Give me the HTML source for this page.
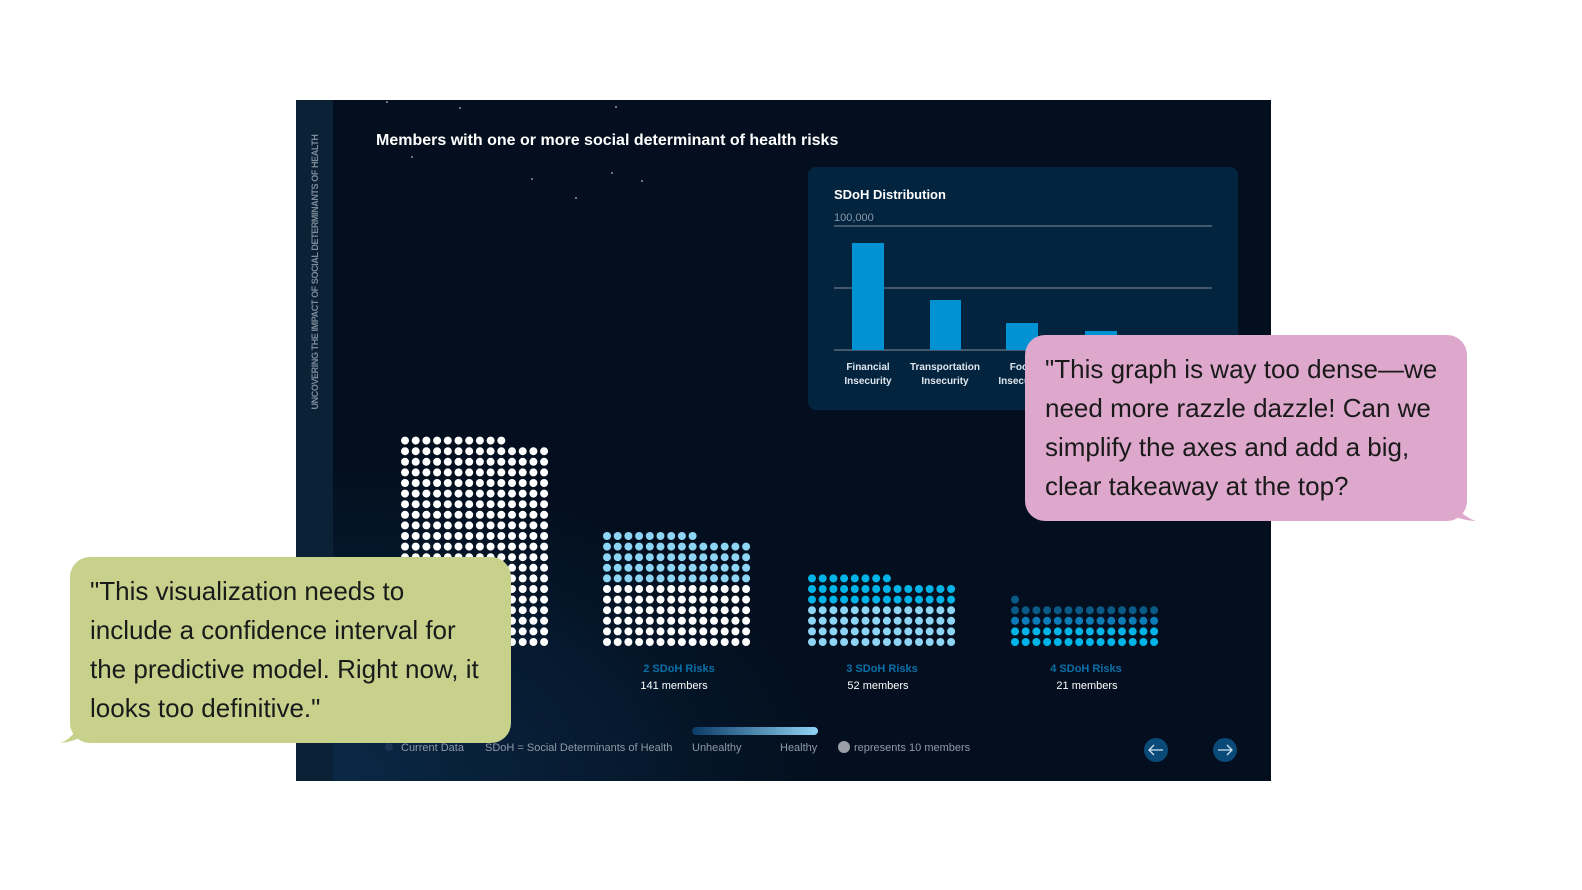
<!DOCTYPE html>
<html><head><meta charset="utf-8"><style>
*{margin:0;padding:0;box-sizing:border-box}
body{width:1582px;height:890px;background:#fff;position:relative;overflow:hidden;font-family:"Liberation Sans",Arial,sans-serif}
.panel{position:absolute;left:296px;top:100px;width:975px;height:681px;background:radial-gradient(ellipse 700px 420px at 0% 100%,#0b2a48 0%,#061a30 45%,#030f1e 75%),#030f1e;overflow:hidden}
.side{position:absolute;left:0;top:0;width:37px;height:681px;background:#0b2136}
.side span{position:absolute;left:19px;top:172px;transform:translate(-50%,-50%) rotate(-90deg);white-space:nowrap;font-size:9px;font-weight:bold;color:#7d8b99;letter-spacing:-0.4px}
.abs{position:absolute;white-space:nowrap}
.bubble{position:absolute;font-size:26px;color:#1a1a1a;line-height:39px;padding:19px 20px}
</style></head><body>
<div class="panel">
  <div class="side"><span>UNCOVERING THE IMPACT OF SOCIAL DETERMINANTS OF HEALTH</span></div>
  <div class="abs" style="left:80px;top:32px;font-size:16px;font-weight:bold;color:#fff">Members with one or more social determinant of health risks</div>
</div>
<svg style="position:absolute;left:0;top:0" width="1582" height="890" id="s">
  <g fill="#8a9aac"><circle cx="387" cy="102" r="1"/><circle cx="460" cy="108" r="1"/><circle cx="616" cy="107" r="1"/><circle cx="412" cy="157" r="1"/><circle cx="532" cy="179" r="1"/><circle cx="612" cy="173" r="1"/><circle cx="642" cy="181" r="1"/><circle cx="576" cy="198" r="1"/></g>
  <rect x="808" y="167" width="430" height="243" rx="8" fill="#03243f"/>
  <text x="834" y="199" font-size="13" font-weight="bold" fill="#fff">SDoH Distribution</text>
  <text x="834" y="221" font-size="11" fill="#8a98a8">100,000</text>
  <g stroke="#6c7a88" stroke-width="1.2"><line x1="834" y1="226" x2="1212" y2="226"/><line x1="834" y1="288" x2="1212" y2="288"/><line x1="834" y1="350" x2="1212" y2="350"/></g>
  <g fill="#0092d2"><rect x="852" y="243" width="32" height="107"/><rect x="930" y="300" width="31" height="50"/><rect x="1006" y="323" width="32" height="27"/><rect x="1085" y="331" width="32" height="19"/></g>
  <g font-size="10" font-weight="bold" fill="#dfe6ee" text-anchor="middle">
    <text x="868" y="370">Financial</text><text x="868" y="384">Insecurity</text>
    <text x="945" y="370">Transportation</text><text x="945" y="384">Insecurity</text>
    <text x="1022" y="370">Food</text><text x="1022" y="384">Insecurity</text>
  </g>
  <g id="dots"></g>
  <g font-size="11" text-anchor="middle">
    <text x="679" y="672" fill="#0a6fa8" font-weight="bold">2 SDoH Risks</text><text x="674" y="689" fill="#fff">141 members</text>
    <text x="882" y="672" fill="#0a6fa8" font-weight="bold">3 SDoH Risks</text><text x="878" y="689" fill="#fff">52 members</text>
    <text x="1086" y="672" fill="#0a6fa8" font-weight="bold">4 SDoH Risks</text><text x="1087" y="689" fill="#fff">21 members</text>
  </g>
  <defs><linearGradient id="g" x1="0" x2="1"><stop offset="0" stop-color="#0a3a66"/><stop offset="1" stop-color="#8fd3f5"/></linearGradient></defs>
  <rect x="692" y="727" width="126" height="8" rx="4" fill="url(#g)"/>
  <g font-size="11" fill="#8f9aa6">
    <circle cx="389" cy="747" r="4" fill="#1a3350"/>
    <text x="401" y="751">Current Data</text>
    <text x="485" y="751">SDoH = Social Determinants of Health</text>
    <text x="692" y="751">Unhealthy</text>
    <text x="780" y="751">Healthy</text>
    <circle cx="844" cy="747" r="6" fill="#9aa0a8"/>
    <text x="854" y="751">represents 10 members</text>
  </g>
  <circle cx="1156" cy="750" r="12" fill="#0a4a78"/><circle cx="1225" cy="750" r="12" fill="#0a4a78"/>
  <g stroke="#cfe3f2" stroke-width="1.3" fill="none"><path d="M1163 750H1149M1154 745L1149 750L1154 755"/><path d="M1218 750H1232M1227 745L1232 750L1227 755"/></g>
  <path d="M1440 505 Q1452 520 1476 521 Q1458 515 1455 500Z" fill="#dda8cc"/>
  <rect x="1025" y="335" width="442" height="186" rx="20" fill="#dda8cc"/>
  <path d="M95 725 Q85 740 61 743 Q78 735 80 718Z" fill="#c8d18c"/>
  <rect x="70" y="557" width="441" height="186" rx="20" fill="#c8d18c"/>
</svg>
<div class="bubble" style="left:1025px;top:335px;width:442px;padding-top:15px">"This graph is way too dense—we need more razzle dazzle! Can we simplify the axes and add a big, clear takeaway at the top?</div>
<div class="bubble" style="left:70px;top:557px;width:441px;padding-top:15px">"This visualization needs to include a confidence interval for the predictive model. Right now, it looks too definitive."</div>
<script>
var g=document.getElementById('dots'),h='';
function grid(x0,rows,top,colorFn){for(var r=0;r<rows;r++){var n=(r==rows-1)?top:14;for(var c=0;c<n;c++){h+='<circle cx="'+(x0+c*10.7).toFixed(1)+'" cy="'+(642-r*10.6).toFixed(1)+'" r="4" fill="'+colorFn(r,rows)+'"/>';}}}
grid(405,20,10,function(){return '#fff'});
grid(607,11,9,function(r){return r>=6?'#8dd4f5':'#fff'});
grid(812,7,8,function(r){return r>=4?'#00b4e8':'#8dd4f5'});
grid(1015,5,1,function(r){return r>=3?'#0a5a88':r==2?'#0a7cb8':'#00b4e8'});
g.innerHTML=h;
</script>
</body></html>
